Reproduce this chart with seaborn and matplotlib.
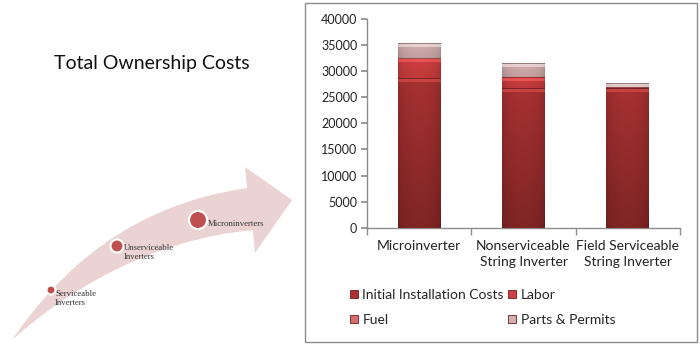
import numpy as np
import matplotlib
matplotlib.use("Agg")
import matplotlib.pyplot as plt
from matplotlib.path import Path
from matplotlib.patches import PathPatch, Circle, Rectangle, Patch
from matplotlib.colors import to_rgb
import seaborn as sns

# chart data
categories = ["Microinverter", "Nonserviceable\nString Inverter", "Field Serviceable\nString Inverter"]
initial_costs = [28600, 26800, 26800]
labor = [3700, 2000, 0]
fuel = [150, 100, 100]
parts_permits = [2750, 2500, 600]

series_names = ["Initial Installation Costs", "Labor", "Fuel", "Parts & Permits"]
series_colors = ["#a83131", "#cf3f3f", "#d66e6e", "#d3aeae"]
yticks = list(range(0, 40001, 5000))

trend_labels = ["Serviceable\nInverters", "Unserviceable\nInverters", "Microninverters"]

sns.set_theme(style="white")
plt.rcParams["font.family"] = ["Lato", "DejaVu Sans"]

fig = plt.figure(figsize=(7, 3.51), dpi=100)

# background drawing layer in pixel coords
deco = fig.add_axes([0, 0, 1, 1])
deco.set_xlim(0, 700)
deco.set_ylim(351, 0)
deco.axis("off")

deco.text(152, 64, "Total Ownership Costs", fontsize=14, ha="center", va="center", color="#111111")

# curved arrow
verts = [(12, 340),
         (60, 270), (130, 205), (247, 188),
         (245, 167), (292, 200), (255, 253), (253, 230),
         (150, 240), (68, 290), (12, 340)]
codes = [Path.MOVETO,
         Path.CURVE4, Path.CURVE4, Path.CURVE4,
         Path.LINETO, Path.LINETO, Path.LINETO, Path.LINETO,
         Path.CURVE4, Path.CURVE4, Path.CURVE4]
deco.add_patch(PathPatch(Path(verts, codes), facecolor="#ecd3d3", edgecolor="none"))

dots = [(51, 290, 4.5), (117, 246, 6.5), (198, 220, 9)]
text_pos = [(55, 290), (124, 244), (208, 224)]
for (cx, cy, r), (tx, ty), lab in zip(dots, text_pos, trend_labels):
    deco.add_patch(Circle((cx, cy), r, facecolor="#c0504d", edgecolor="white", lw=1.5))
    deco.text(tx, ty, lab, fontsize=6.3, family="Liberation Serif", color="#333333",
              va="top" if "\n" in lab else "center", ha="left", linespacing=1.2)

deco.add_patch(Rectangle((305, 3), 392, 339, facecolor="white", edgecolor="#8c8c8c", lw=1))

# main chart
ax = fig.add_axes([367 / 700, 1 - 227.7 / 351, 313 / 700, 208.7 / 351])
layers = [initial_costs, labor, fuel, parts_permits]
cum = np.cumsum(np.array(layers), axis=0)

# tallest first so shorter ones sit on top
for k in range(len(layers) - 1, -1, -1):
    sns.barplot(x=categories, y=cum[k], color=series_colors[k], width=0.41,
                errorbar=None, linewidth=0, ax=ax)

ax_px = ax.get_position().height * fig.get_figheight() * fig.dpi
upp = 40000 / ax_px


def shade(x0, x1, y0, y1, color):
    if y1 <= y0:
        return
    base = np.array(to_rgb(color))
    seg_px = (y1 - y0) / upp
    rows = max(int(seg_px * 3), 3)
    cols = 60
    u = np.linspace(0, 1, cols)
    hf = 0.84 + 0.16 * np.sin(np.pi * u) ** 0.5
    yy = np.linspace(y0, y1, rows)
    t = (yy - y0) / (y1 - y0)
    vf = 0.76 + 0.24 * t if seg_px > 20 else 0.92 + 0.08 * t
    img = base[None, None, :] * hf[None, :, None] * vf[:, None, None]
    d = (y1 - yy) / upp
    light = np.clip(base * 1.25 + 0.08, 0, 1)
    hl = (d > 0.8) & (d < 3.5)
    img[hl] = img[hl] * 0.45 + 0.55 * light
    dk = d <= 0.8
    img[dk] = img[dk] * 0.75
    img = np.clip(img, 0, 1)
    ax.imshow(img, extent=[x0, x1, y0, y1], origin="lower", aspect="auto",
              interpolation="nearest", zorder=3)


n = len(categories)
for k in range(len(layers)):
    call = len(layers) - 1 - k
    for i in range(n):
        p = ax.patches[call * n + i]
        lo = cum[k - 1][i] if k > 0 else 0
        shade(p.get_x(), p.get_x() + p.get_width(), lo, cum[k][i], series_colors[k])

ax.set_xlim(-0.5, 2.5)
ax.set_ylim(0, 40000)
ax.set_yticks(yticks)
ax.set_yticklabels([str(v) for v in yticks], fontsize=9)
ax.set_xticks(range(n))
ax.set_xticklabels(categories, fontsize=10, linespacing=1.35)
ax.set_xticks([-0.5, 0.5, 1.5, 2.5], minor=True)
ax.tick_params(axis="x", which="major", length=0, pad=9, colors="#222222")
ax.tick_params(axis="x", which="minor", length=5, color="#8c8c8c", direction="out", bottom=True)
ax.tick_params(axis="y", length=4, color="#8c8c8c", direction="out", left=True, pad=3, colors="#222222")
ax.tick_params(axis="y", color="#8c8c8c")
for s in ["top", "right"]:
    ax.spines[s].set_visible(False)
for s in ["left", "bottom"]:
    ax.spines[s].set_color("#8c8c8c")
    ax.spines[s].set_linewidth(1)
ax.grid(False)
ax.set_facecolor("none")

# legend is filled column by column, so order the entries to read row-wise
order = [0, 2, 1, 3]
handles = [Patch(facecolor=series_colors[j], edgecolor="#6e1c1c", lw=0.6) for j in order]
fig.legend(handles, [series_names[j] for j in order], ncol=2, loc="upper left",
           bbox_to_anchor=(350 / 700, 1 - 289 / 351),
           frameon=False, fontsize=10, handlelength=0.55, handleheight=0.55, handletextpad=0.35,
           columnspacing=0.3, labelspacing=0.95, borderpad=0, borderaxespad=0)

fig.savefig("out.png", dpi=100)
